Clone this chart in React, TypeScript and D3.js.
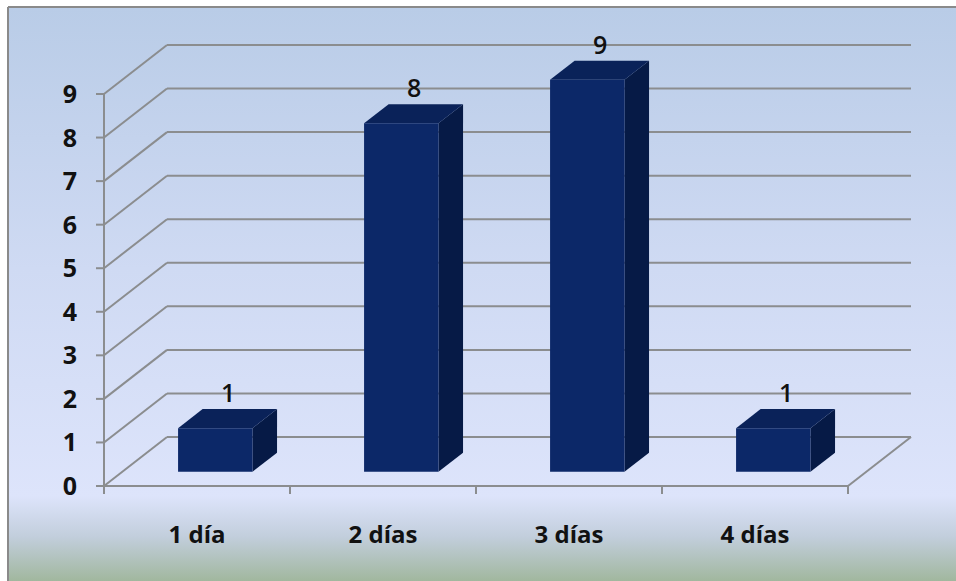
import React from "react";
import * as d3 from "d3";

const categories = ["1 día", "2 días", "3 días", "4 días"];
const values = [1, 8, 9, 1];
const yTicks = [0, 1, 2, 3, 4, 5, 6, 7, 8, 9];

const W = 956;
const H = 581;
const DX = 63; // full depth offset
const DY = -49;
const BAR_D0 = 0.29; // bar front depth fraction
const BAR_D = 0.39; // bar depth fraction

export default function App() {
  const y = d3.scaleLinear().domain([0, 9]).range([486, 94]);
  const x = d3.scaleBand<string>().domain(categories).range([104, 848]).padding(0);
  const step = x.step();
  const barW = step * 0.4;
  const grid = "#8b8d8f";
  const font = "'Open Sans', 'DejaVu Sans', sans-serif";
  const x0 = 104, x1 = 848;
  const bx = DX * BAR_D0, by = DY * BAR_D0;
  const ddx = DX * BAR_D, ddy = DY * BAR_D;
  const base = y(0) + by;

  return (
    <svg width={W} height={H} style={{ position: "absolute", left: 0, top: 0 }}>
      <defs>
        <linearGradient id="bg" x1="0" y1="0" x2="0" y2="1">
          <stop offset="0" stopColor="#b9cce7" />
          <stop offset="0.45" stopColor="#cfdaf3" />
          <stop offset="0.84" stopColor="#dde4fb" />
          <stop offset="0.91" stopColor="#c2cedc" />
          <stop offset="1" stopColor="#9bb393" />
        </linearGradient>
      </defs>
      <rect x={9} y={8} width={W} height={H} fill="url(#bg)" />
      <line x1={8} y1={7} x2={W} y2={7} stroke="#8a8a8a" strokeWidth={2} />
      <line x1={8} y1={7} x2={8} y2={H} stroke="#8a8a8a" strokeWidth={2} />

      {/* back wall gridlines & left wall diagonals */}
      {yTicks.map((t) => (
        <g key={t}>
          <line x1={x0 + DX} y1={y(t) + DY} x2={x1 + DX} y2={y(t) + DY} stroke={grid} strokeWidth={2} />
          <line x1={x0} y1={y(t)} x2={x0 + DX} y2={y(t) + DY} stroke={grid} strokeWidth={2} />
          <line x1={x0 - 8} y1={y(t)} x2={x0} y2={y(t)} stroke={grid} strokeWidth={2} />
          <text
            x={77}
            y={y(t)}
            dy="0.36em"
            textAnchor="end"
            fontFamily={font}
            fontWeight={700}
            fontSize={25}
            fill="#111"
          >
            {t}
          </text>
        </g>
      ))}
      {/* floor */}
      <line x1={x0} y1={y(0)} x2={x1} y2={y(0)} stroke={grid} strokeWidth={2} />
      <line x1={x1} y1={y(0)} x2={x1 + DX} y2={y(0) + DY} stroke={grid} strokeWidth={2} />
      <line x1={x0} y1={y(9)} x2={x0} y2={y(0)} stroke={grid} strokeWidth={2} />
      {categories.concat([""]).map((c, i) => {
        const xx = x0 + i * step;
        return <line key={i} x1={xx} y1={y(0)} x2={xx} y2={y(0) + 8} stroke={grid} strokeWidth={2} />;
      })}

      {/* bars */}
      {categories.map((c, i) => {
        const v = values[i];
        const fx = (x(c) as number) + step / 2 - barW / 2 + bx;
        const top = y(v) + by;
        const front = `M${fx},${base}L${fx + barW},${base}L${fx + barW},${top}L${fx},${top}Z`;
        const topFace = `M${fx},${top}L${fx + ddx},${top + ddy}L${fx + barW + ddx},${top + ddy}L${fx + barW},${top}Z`;
        const side = `M${fx + barW},${base}L${fx + barW + ddx},${base + ddy}L${fx + barW + ddx},${top + ddy}L${fx + barW},${top}Z`;
        return (
          <g key={c}>
            <path d={side} fill="#061a46" />
            <path d={topFace} fill="#0a2259" />
            <path d={front} fill="#0c2868" />
            <text
              x={fx + barW / 2 + 13}
              y={top + ddy - 7}
              textAnchor="middle"
              fontFamily={font}
              fontWeight={600}
              fontSize={25}
              fill="#111"
            >
              {v}
            </text>
          </g>
        );
      })}

      {/* category labels */}
      {categories.map((c) => (
        <text
          key={c}
          x={(x(c) as number) + step / 2}
          y={543}
          textAnchor="middle"
          fontFamily={font}
          fontWeight={700}
          fontSize={24}
          fill="#111"
        >
          {c}
        </text>
      ))}
    </svg>
  );
}
